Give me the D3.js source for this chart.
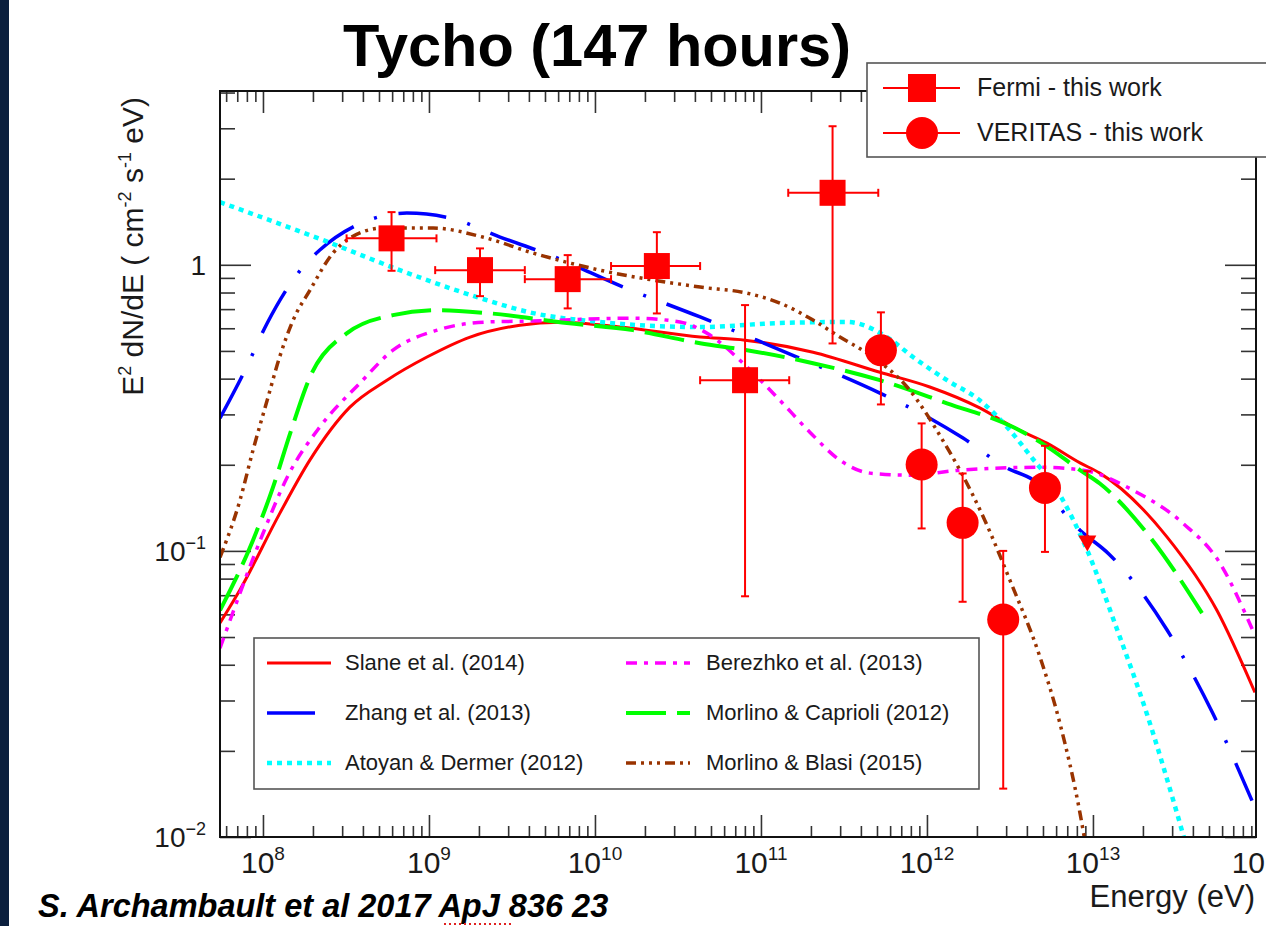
<!DOCTYPE html>
<html>
<head>
<meta charset="utf-8">
<script src="https://d3js.org/d3.v7.min.js"></script>
<style>
body { margin: 0; background: #fff; }
svg { display: block; }
text { font-family: "Liberation Sans", Arial, sans-serif; fill: #1a1a1a; }
</style>
</head>
<body>
<svg id="chart" width="1266" height="926"></svg>
<script>
// ---- data (energy in eV, E^2 dN/dE in the axis units) ----
var fermiE    = [5.95e8, 2.03e9, 6.85e9, 2.36e10, 8.02e10, 2.70e11];
var fermiV    = [1.237, 0.958, 0.891, 0.99, 0.395, 1.785];
var fermiLo   = [0.953, 0.777, 0.704, 0.676, 0.0694, 0.531];
var fermiHi   = [1.528, 1.141, 1.081, 1.30, 0.723, 3.05];
var fermiEmin = [3.19e8, 1.09e9, 3.78e9, 1.25e10, 4.3e10, 1.46e11];
var fermiEmax = [1.11e9, 3.78e9, 1.25e10, 4.3e10, 1.48e11, 5.09e11];

var veritasE  = [5.28e11, 9.29e11, 1.64e12, 2.88e12, 5.14e12];
var veritasV  = [0.503, 0.2005, 0.1253, 0.0576, 0.166];
var veritasLo = [0.325, 0.1198, 0.0664, 0.01476, 0.0992];
var veritasHi = [0.682, 0.279, 0.1865, 0.1, 0.233];

var ulE = [9.25e12];
var ulV = [0.19];
var ulTip = [0.0995];

var slane = [[5.51e7,0.056],[7.26e7,0.073],[1.26e8,0.135],[1.92e8,0.208],[3.34e8,0.318],[5.58e8,0.395],
  [9.73e8,0.476],[1.77e9,0.559],[3.53e9,0.615],[6.15e9,0.630],[1.42e10,0.606],[4.30e10,0.559],[8.02e10,0.545],
  [2.06e11,0.495],[5.21e11,0.421],[1.04e12,0.374],[2.08e12,0.316],[3.30e12,0.271],[5.28e12,0.238],[8.36e12,0.203],
  [1.10e13,0.187],[2.79e13,0.112],[5.58e13,0.062],[9.46e13,0.032]];
var zhang = [[5.51e7,0.291],[7.80e7,0.428],[1.06e8,0.625],[1.74e8,0.982],[2.20e8,1.126],[3.68e8,1.377],
  [7.36e8,1.516],[1.34e9,1.457],[2.68e9,1.25],[5.36e9,1.081],[1.48e10,0.836],[4.30e10,0.657],[9.46e10,0.545],
  [1.65e11,0.476],[5.21e11,0.356],[1.04e12,0.291],[1.65e12,0.248],[3.03e12,0.195],[4.36e12,0.177],[8.36e12,0.118],
  [1.26e13,0.097],[2.79e13,0.053],[5.28e13,0.027],[9.08e13,0.0134]];
var atoyan = [[5.51e7,1.656],[2.30e8,1.220],[6.68e8,0.958],[1.95e9,0.771],[4.24e9,0.678],[1.07e10,0.631],
  [4.30e10,0.606],[1.30e11,0.626],[3.30e11,0.631],[5.74e11,0.559],[8.24e11,0.476],[1.32e12,0.395],[2.08e12,0.336],
  [3.16e12,0.264],[4.17e12,0.216],[6.32e12,0.157],[9.20e12,0.101],[1.40e13,0.053],[2.11e13,0.027],[3.21e13,0.0121],
  [3.58e13,0.0097]];
var berezhko = [[5.51e7,0.0457],[1e8,0.115],[1.40e8,0.181],[2.20e8,0.271],[3.84e8,0.386],[6.07e8,0.503],
  [1.12e9,0.591],[2.23e9,0.631],[4.24e9,0.636],[1.69e10,0.651],[3.25e10,0.631],[4.93e10,0.568],[8.02e10,0.446],
  [1.30e11,0.336],[1.97e11,0.260],[2.99e11,0.2075],[4.54e11,0.187],[7.91e11,0.184],[1.58e12,0.1915],[4.80e12,0.196],
  [8.71e12,0.1915],[1.74e13,0.163],[3.48e13,0.125],[5.82e13,0.0906],[8.47e13,0.0586],[9.46e13,0.0507]];
var caprioli = [[5.51e7,0.062],[8.71e7,0.109],[1.15e8,0.167],[1.46e8,0.258],[1.92e8,0.405],[3.21e8,0.577],
  [6.07e8,0.667],[1.12e9,0.694],[2.23e9,0.678],[6.78e9,0.626],[1.69e10,0.591],[4.30e10,0.532],[8.24e10,0.503],
  [2.06e11,0.453],[5.21e11,0.395],[1.32e12,0.328],[3.30e12,0.271],[5.27e12,0.232],[8.36e12,0.1915],[1.10e13,0.172],
  [2.20e13,0.112],[4.54e13,0.0606]];
var blasi = [[5.51e7,0.095],[7.26e7,0.150],[8.71e7,0.225],[1.06e8,0.336],[1.26e8,0.476],[1.52e8,0.641],
  [1.92e8,0.816],[2.64e8,1.099],[3.34e8,1.240],[5.28e8,1.344],[1.06e9,1.344],[2.11e9,1.25],[4.24e9,1.099],
  [1.07e10,0.958],[4.30e10,0.836],[8.24e10,0.796],[1.30e11,0.735],[2.06e11,0.641],[2.99e11,0.559],[4.36e11,0.491],
  [7.59e11,0.374],[1.32e12,0.230],[1.58e12,0.1915],[2.23e12,0.128],[3.16e12,0.079],[4.80e12,0.0425],[6.32e12,0.025],
  [8.36e12,0.0121],[8.95e12,0.0097]];

var modelNames = ["Slane et al. (2014)", "Zhang et al. (2013)", "Atoyan & Dermer (2012)",
                  "Berezhko et al. (2013)", "Morlino & Caprioli (2012)", "Morlino & Blasi (2015)"];

var xTickValues = [1e8, 1e9, 1e10, 1e11, 1e12, 1e13, 1e14];
var xTickExp    = ["8", "9", "10", "11", "12", "13", "14"];
var yTickValues = [1, 0.1, 0.01];
var yTickBase   = ["1", "10", "10"];
var yTickExp    = ["", "\u22121", "\u22122"];

// ---- layout ----
var X0 = 220, X1 = 1256, Y0 = 91, Y1 = 837;
var svg = d3.select("#chart");

var x = d3.scaleLog().domain([5.51e7, 9.6e13]).range([X0, X1]);
var y = d3.scaleLog().domain([0.01, 4.05]).range([Y1, Y0]);

// dark strip on the left
svg.append("rect").attr("x", 0).attr("y", 0).attr("width", 9).attr("height", 926).attr("fill", "#0b1f3e");

svg.append("defs").append("clipPath").attr("id", "frameClip")
  .append("rect").attr("x", X0).attr("y", Y0).attr("width", X1 - X0).attr("height", Y1 - Y0);

// minor tick values
var xMinor = [], yMinor = [];
for (var d = 7; d <= 13; d++) for (var k = 2; k <= 9; k++) {
  var v = k * Math.pow(10, d);
  if (v > x.domain()[0] && v < x.domain()[1]) xMinor.push(v);
}
for (var d2 = -2; d2 <= 0; d2++) for (var k2 = 2; k2 <= 9; k2++) {
  var w = k2 * Math.pow(10, d2);
  if (w > y.domain()[0] && w < y.domain()[1]) yMinor.push(w);
}
var xMajorIn = xTickValues.filter(function(v) { return v <= x.domain()[1]; });

function tickStyle(g) {
  g.select(".domain").remove();
  g.selectAll("line").attr("stroke", "#333").attr("stroke-width", 1.6);
  g.selectAll("text").remove();
}
// bottom / top axes
svg.append("g").attr("transform", "translate(0," + Y1 + ")")
  .call(d3.axisBottom(x).tickValues(xMajorIn).tickSize(-22)).call(tickStyle);
svg.append("g").attr("transform", "translate(0," + Y1 + ")")
  .call(d3.axisBottom(x).tickValues(xMinor).tickSize(-11)).call(tickStyle);
svg.append("g").attr("transform", "translate(0," + Y0 + ")")
  .call(d3.axisTop(x).tickValues(xMajorIn).tickSize(-22)).call(tickStyle);
svg.append("g").attr("transform", "translate(0," + Y0 + ")")
  .call(d3.axisTop(x).tickValues(xMinor).tickSize(-11)).call(tickStyle);
// left / right axes
svg.append("g").attr("transform", "translate(" + X0 + ",0)")
  .call(d3.axisLeft(y).tickValues(yTickValues).tickSize(-31)).call(tickStyle);
svg.append("g").attr("transform", "translate(" + X0 + ",0)")
  .call(d3.axisLeft(y).tickValues(yMinor).tickSize(-15)).call(tickStyle);
svg.append("g").attr("transform", "translate(" + X1 + ",0)")
  .call(d3.axisRight(y).tickValues(yTickValues).tickSize(-31)).call(tickStyle);
svg.append("g").attr("transform", "translate(" + X1 + ",0)")
  .call(d3.axisRight(y).tickValues(yMinor).tickSize(-15)).call(tickStyle);

// tick labels with superscripts
xTickValues.forEach(function(v, i) {
  var t = svg.append("text").attr("x", x(v)).attr("y", 873).attr("text-anchor", "middle")
    .attr("font-size", 30);
  t.append("tspan").text("10");
  t.append("tspan").attr("dy", -13).attr("font-size", 19).text(xTickExp[i]);
});
yTickValues.forEach(function(v, i) {
  var t = svg.append("text").attr("x", 206).attr("y", y(v) + 10).attr("text-anchor", "end")
    .attr("font-size", 28);
  t.append("tspan").text(yTickBase[i]);
  if (yTickExp[i]) t.append("tspan").attr("dy", -12).attr("font-size", 18).text(yTickExp[i]);
});

// axis titles
svg.append("text").attr("x", 1255).attr("y", 907).attr("text-anchor", "end")
  .attr("font-size", 31).text("Energy (eV)");
var yt = svg.append("text").attr("transform", "translate(143,97) rotate(-90)")
  .attr("text-anchor", "end").attr("font-size", 30);
[["E", 0], ["2", 1], [" dN/dE ( cm", 0], ["-2", 1], [" s", 0], ["-1", 1], [" eV)", 0]].forEach(function(p, i, arr) {
  var prevSup = i > 0 && arr[i - 1][1];
  var ts = yt.append("tspan").text(p[0]);
  if (p[1]) ts.attr("dy", -12).attr("font-size", 18);
  else if (prevSup) ts.attr("dy", 12);
});

// title and citation
svg.append("text").attr("x", 597).attr("y", 66).attr("text-anchor", "middle")
  .attr("font-size", 59.5).attr("font-weight", "bold").style("fill", "#000").text("Tycho (147 hours)");
svg.append("text").attr("x", 38).attr("y", 917).attr("font-size", 32.5).attr("font-weight", "bold")
  .attr("font-style", "italic").style("fill", "#000").text("S. Archambault et al 2017 ApJ 836 23");
svg.append("line").attr("x1", 444).attr("x2", 512).attr("y1", 924).attr("y2", 924)
  .attr("stroke", "#e02020").attr("stroke-width", 2).attr("stroke-dasharray", "2,3");

// ---- model curves ----
var models = [
  { data: slane,    color: "#ff0000", dash: null,                    width: 3 },
  { data: zhang,    color: "#0000ff", dash: "48,22,3,22",            width: 3.5 },
  { data: atoyan,   color: "#00ffff", dash: "5,5",                   width: 4.5 },
  { data: berezhko, color: "#ff00ff", dash: "11,7,4,7",              width: 3.5 },
  { data: caprioli, color: "#00ff00", dash: "40,11",                 width: 4 },
  { data: blasi,    color: "#993300", dash: "10,5,3,5,3,5,3,5",      width: 3.5 }
];
var line = d3.line().x(function(d) { return x(d[0]); }).y(function(d) { return y(d[1]); })
  .curve(d3.curveMonotoneX);
var curves = svg.append("g").attr("clip-path", "url(#frameClip)");
models.forEach(function(m) {
  curves.append("path").datum(m.data).attr("d", line).attr("fill", "none")
    .attr("stroke", m.color).attr("stroke-width", m.width)
    .attr("stroke-dasharray", m.dash);
});

// ---- data points ----
var red = "#ff0000";
var pts = svg.append("g").attr("stroke", red).attr("stroke-width", 2);
function cap(g, x1, y1, x2, y2) {
  g.append("line").attr("x1", x1).attr("y1", y1).attr("x2", x2).attr("y2", y2);
}
fermiE.forEach(function(e, i) {
  var cx = x(e), cy = y(fermiV[i]);
  var xl = x(fermiEmin[i]), xr = x(fermiEmax[i]), yt2 = y(fermiHi[i]), yb = y(fermiLo[i]);
  cap(pts, xl, cy, xr, cy);
  cap(pts, cx, yt2, cx, yb);
  cap(pts, xl, cy - 4, xl, cy + 4); cap(pts, xr, cy - 4, xr, cy + 4);
  cap(pts, cx - 4, yt2, cx + 4, yt2); cap(pts, cx - 4, yb, cx + 4, yb);
  pts.append("rect").attr("x", cx - 13).attr("y", cy - 13).attr("width", 26).attr("height", 26)
    .attr("fill", red).attr("stroke", "none");
});
veritasE.forEach(function(e, i) {
  var cx = x(e), cy = y(veritasV[i]), yt2 = y(veritasHi[i]), yb = y(veritasLo[i]);
  cap(pts, cx, yt2, cx, yb);
  cap(pts, cx - 4, yt2, cx + 4, yt2); cap(pts, cx - 4, yb, cx + 4, yb);
  pts.append("circle").attr("cx", cx).attr("cy", cy).attr("r", 16).attr("fill", red).attr("stroke", "none");
});
ulE.forEach(function(e, i) {
  var cx = x(e), yt2 = y(ulV[i]), tip = y(ulTip[i]);
  cap(pts, cx, yt2, cx, tip - 10);
  cap(pts, cx - 4, yt2, cx + 4, yt2);
  pts.append("path").attr("d", "M" + (cx - 9) + "," + (tip - 16) + "L" + (cx + 9) + "," + (tip - 16) +
    "L" + cx + "," + tip + "Z").attr("fill", red).attr("stroke", "none");
});

// ---- frame ----
svg.append("rect").attr("x", X0).attr("y", Y0).attr("width", X1 - X0).attr("height", Y1 - Y0)
  .attr("fill", "none").attr("stroke", "#111").attr("stroke-width", 2);

// ---- legend: data ----
var lg1 = svg.append("g");
lg1.append("rect").attr("x", 867).attr("y", 63).attr("width", 420).attr("height", 94)
  .attr("fill", "#fff").attr("stroke", "#555").attr("stroke-width", 1.6);
[["Fermi - this work", "square"], ["VERITAS - this work", "circle"]].forEach(function(r, i) {
  var cy = 88 + i * 45;
  lg1.append("line").attr("x1", 883).attr("x2", 960).attr("y1", cy).attr("y2", cy)
    .attr("stroke", red).attr("stroke-width", 2);
  if (r[1] === "square") lg1.append("rect").attr("x", 908).attr("y", cy - 14).attr("width", 28)
    .attr("height", 28).attr("fill", red);
  else lg1.append("circle").attr("cx", 922).attr("cy", cy).attr("r", 16).attr("fill", red);
  lg1.append("text").attr("x", 977).attr("y", cy + 8).attr("font-size", 25).text(r[0]);
});

// ---- legend: models ----
var lg2 = svg.append("g");
lg2.append("rect").attr("x", 254).attr("y", 638).attr("width", 725).attr("height", 151)
  .attr("fill", "#fff").attr("stroke", "#555").attr("stroke-width", 1.6);
models.forEach(function(m, i) {
  var col = i < 3 ? 0 : 1, row = i % 3;
  var lx = col === 0 ? 267 : 626, cy = 663 + row * 50;
  lg2.append("line").attr("x1", lx).attr("x2", lx + 64).attr("y1", cy).attr("y2", cy)
    .attr("stroke", m.color).attr("stroke-width", m.width).attr("stroke-dasharray", m.dash);
  lg2.append("text").attr("x", col === 0 ? 345 : 706).attr("y", cy + 7).attr("font-size", 22)
    .text(modelNames[i]);
});
</script>
</body>
</html>
